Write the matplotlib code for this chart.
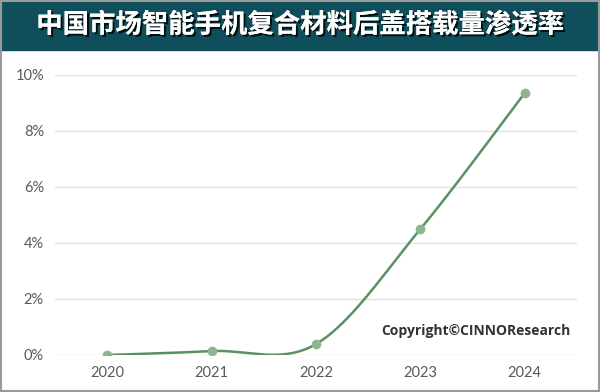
import numpy as np
import matplotlib.pyplot as plt
from matplotlib import patheffects as pe
from matplotlib.patches import Rectangle

# Data
years = ["2020", "2021", "2022", "2023", "2024"]
rate = [0.0, 0.14, 0.39, 4.5, 9.36]  # percent
yticks = [0, 2, 4, 6, 8, 10]
title = "中国市场智能手机复合材料后盖搭载量渗透率"
copyright_txt = "Copyright©CINNOResearch"

LINE = "#5a9164"
MARK = "#8db592"
BAR = "#0e4f5b"


def smooth(xs, ys, n=40):
    # Excel-like smoothed line: cubic bezier with catmull-rom control points
    xs = np.asarray(xs, float)
    ys = np.asarray(ys, float)
    px = np.concatenate([[xs[0]], xs, [xs[-1]]])
    py = np.concatenate([[ys[0]], ys, [ys[-1]]])
    ox, oy = [], []
    t = np.linspace(0, 1, n)
    for i in range(1, len(px) - 2):
        p0 = np.array([px[i], py[i]])
        p3 = np.array([px[i + 1], py[i + 1]])
        c1 = p0 + (np.array([px[i + 1], py[i + 1]]) - np.array([px[i - 1], py[i - 1]])) / 6
        c2 = p3 - (np.array([px[i + 2], py[i + 2]]) - np.array([px[i], py[i]])) / 6
        b = ((1 - t) ** 3)[:, None] * p0 + (3 * (1 - t) ** 2 * t)[:, None] * c1 \
            + (3 * (1 - t) * t ** 2)[:, None] * c2 + (t ** 3)[:, None] * p3
        ox.extend(b[:, 0])
        oy.extend(b[:, 1])
    return np.array(ox), np.array(oy)


fig = plt.figure(figsize=(6, 3.92), dpi=100)
W, H = 600, 392

# title bar
fig.patches.append(Rectangle((0, 1 - 50 / H), 1, 50 / H, transform=fig.transFigure,
                             color=BAR, zorder=0))
fig.text(0.5, 1 - 25 / H, title, ha="center", va="center", color="white",
         fontsize=19, weight="bold", family=["Noto Sans CJK SC", "DejaVu Sans"],
         path_effects=[pe.withSimplePatchShadow(offset=(1.5, -1.5), shadow_rgbFace="black", alpha=0.8),
                       pe.Normal()])

# outer border
fig.patches.append(Rectangle((0.002, 0.003), 0.996, 0.994, transform=fig.transFigure,
                             fill=False, edgecolor="#9a9a9a", lw=1.5, zorder=5))

ax = fig.add_axes([55 / W, 1 - 355 / H, (577 - 55) / W, (355 - 75) / H])
x = np.arange(len(years))
sx, sy = smooth(x, rate)
ax.plot(sx, sy, color=LINE, lw=1.8, zorder=3)
ax.plot(x, rate, "o", color=MARK, ms=6, zorder=4)

ax.set_xlim(-0.5, len(years) - 0.5)
ax.set_ylim(0, 10)
ax.set_yticks(yticks)
ax.set_yticklabels([f"{v}%" for v in yticks])
ax.set_xticks(x)
ax.set_xticklabels(years)
ax.grid(axis="y", color="#e3e3e3", lw=1)
ax.set_axisbelow(True)
for s in ax.spines.values():
    s.set_visible(False)
ax.tick_params(length=0, labelsize=10.5, labelcolor="#595959", pad=8)
for lab in ax.get_xticklabels() + ax.get_yticklabels():
    lab.set_family("Lato")
ax.set_clip_on(False)

fig.text(476 / W, 1 - 331 / H, copyright_txt, ha="center", va="center",
         fontsize=10, weight="bold", color="#333333", family="Open Sans")

fig.savefig("out.png", dpi=100)
